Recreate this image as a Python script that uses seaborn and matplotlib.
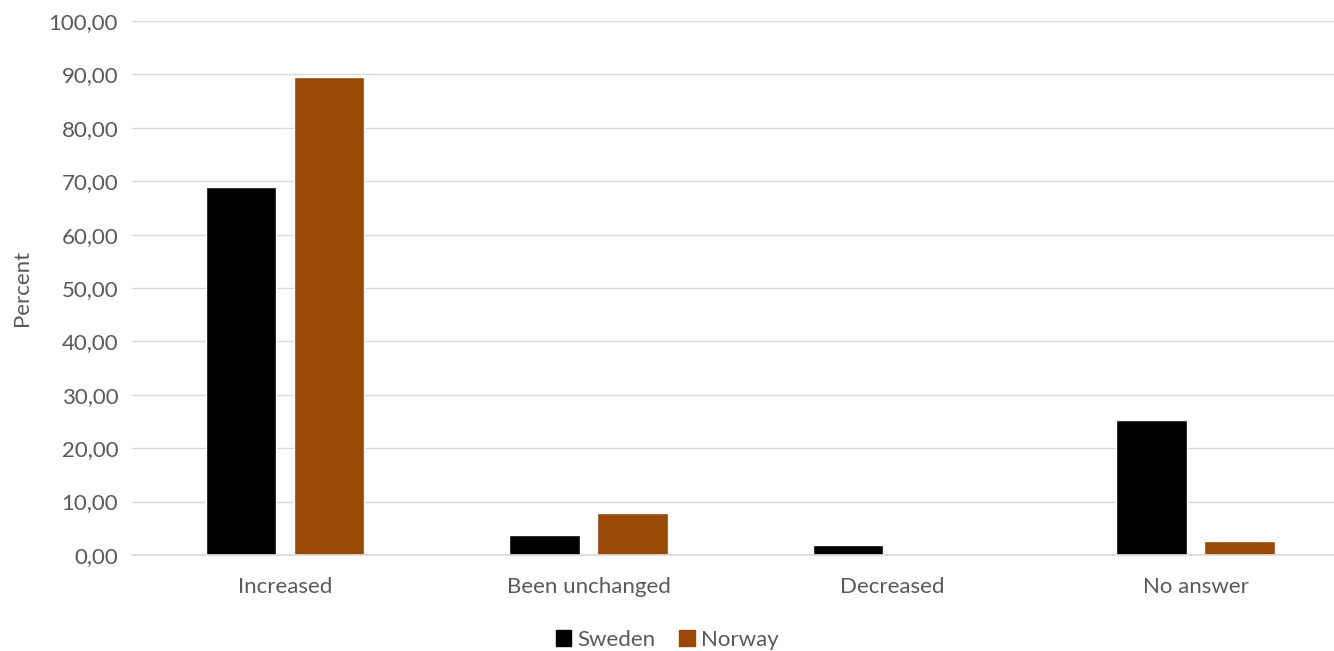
import pandas as pd
import numpy as np
import seaborn as sns
from matplotlib import pyplot as plt
from matplotlib.ticker import FuncFormatter, MultipleLocator
from matplotlib.patches import Patch

categories = ['Increased', 'Been unchanged', 'Decreased', 'No answer']
sweden = [68.9, 3.8, 1.9, 25.3]
norway = [89.5, 7.9, 0.0, 2.6]
countries = ['Sweden', 'Norway']
colors = ['#000000', '#994806']

df = pd.DataFrame({
    'category': categories * 2,
    'country': ['Sweden'] * 4 + ['Norway'] * 4,
    'value': sweden + norway,
})

sns.set_theme(style='white')
plt.rcParams['font.family'] = ['Lato', 'DejaVu Sans']
txt = '#595959'

fig = plt.figure(figsize=(13.34, 6.51), dpi=100)
ax = fig.add_axes([0.099, 0.1475, 0.901, 0.8202])

sns.barplot(data=df, x='category', y='value', hue='country', order=categories,
            hue_order=countries, palette=colors, width=0.58, gap=0.2,
            saturation=1, ax=ax, legend=False)

ax.set_ylim(0, 100)
ax.set_xlim(-0.504, 3.456)
ax.yaxis.set_major_locator(MultipleLocator(10))
ax.yaxis.set_major_formatter(FuncFormatter(lambda v, p: f'{v:.2f}'.replace('.', ',')))
ax.grid(axis='y', color='#d9d9d9', linewidth=1)
ax.set_axisbelow(True)
for s in ['top', 'right', 'left']:
    ax.spines[s].set_visible(False)
ax.spines['bottom'].set_color('#d9d9d9')
ax.tick_params(axis='both', length=0, labelsize=16, colors=txt, pad=10)
ax.tick_params(axis='x', pad=16)
ax.set_xlabel('')
ax.set_ylabel('Percent', fontsize=16, color=txt, labelpad=12)

handles = [Patch(color=c, label=n) for c, n in zip(colors, countries)]
fig.legend(handles=handles, loc='lower center', bbox_to_anchor=(0.5, -0.005), ncol=2,
           frameon=False, fontsize=16, labelcolor=txt, handlelength=0.7,
           handleheight=0.7, handletextpad=0.25, columnspacing=1.1,
           borderaxespad=0, borderpad=0.2)

fig.savefig('out.png', dpi=100)
